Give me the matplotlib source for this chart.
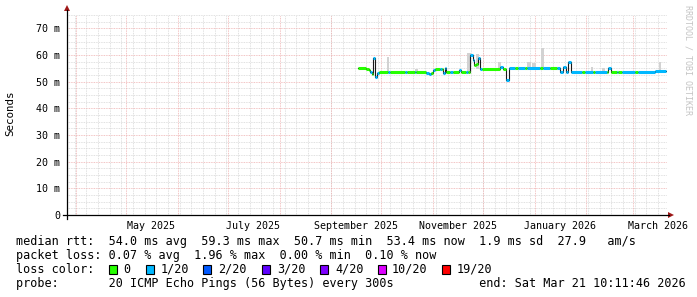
#!/usr/bin/env python3
# smokeping style 360 day rtt graph, rrdtool look

import matplotlib

matplotlib.use("Agg")
import matplotlib.dates as mdates
import matplotlib.pyplot as plt
import pandas as pd
from matplotlib.lines import Line2D
from matplotlib.patches import Polygon, Rectangle

W, H = 697, 297
MONO = "DejaVu Sans Mono"

START = "2025-03-26 10:11:46"
END = "2026-03-21 10:11:46"

# median rtt steps (ms) and loss bucket for each step
step_times = [
    "2025-09-17 00:00", "2025-09-21 19:00", "2025-09-23 14:00", "2025-09-24 12:00",
    "2025-09-25 10:00", "2025-09-26 07:00", "2025-09-27 12:00", "2025-09-28 10:00",
    "2025-09-29 14:00", "2025-10-05 00:00", "2025-10-06 05:00", "2025-10-15 05:00",
    "2025-10-16 10:00", "2025-10-21 05:00", "2025-10-22 02:00", "2025-10-27 19:00",
    "2025-10-29 14:00", "2025-10-30 19:00", "2025-11-01 00:00", "2025-11-02 05:00",
    "2025-11-05 05:00", "2025-11-06 10:00", "2025-11-07 00:00", "2025-11-08 05:00",
    "2025-11-08 19:00", "2025-11-11 05:00", "2025-11-13 00:00", "2025-11-16 14:00",
    "2025-11-17 19:00", "2025-11-20 19:00", "2025-11-22 00:00", "2025-11-23 12:00",
    "2025-11-25 00:00", "2025-11-25 22:00", "2025-11-26 19:00", "2025-11-28 00:00",
    "2025-11-29 12:00", "2025-11-30 10:00", "2025-12-11 05:00", "2025-12-13 07:00",
    "2025-12-15 02:00", "2025-12-16 14:00", "2025-12-20 05:00", "2025-12-22 00:00",
    "2025-12-26 05:00", "2025-12-27 17:00", "2026-01-04 05:00", "2026-01-06 00:00",
    "2026-01-10 05:00", "2026-01-14 10:00", "2026-01-16 05:00", "2026-01-18 07:00",
    "2026-01-19 19:00", "2026-01-21 05:00", "2026-01-22 14:00", "2026-01-29 10:00",
    "2026-01-31 05:00", "2026-02-05 00:00", "2026-02-06 12:00", "2026-02-13 10:00",
    "2026-02-14 07:00", "2026-02-16 02:00", "2026-02-19 10:00", "2026-02-20 07:00",
    "2026-02-22 10:00", "2026-03-02 05:00", "2026-03-04 00:00", "2026-03-14 05:00",
]
data_end = "2026-03-20 20:00"
median_ms = [
    55.0, 54.7, 54.3, 53.5,
    53.0, 58.8, 51.9, 53.2,
    53.5, 53.5, 53.5, 53.5,
    53.5, 53.5, 53.5, 53.3,
    52.8, 53.4, 54.2, 54.8,
    54.8, 54.8, 53.3, 55.0,
    53.5, 53.5, 53.5, 54.4,
    53.5, 53.5, 53.5, 60.0,
    58.2, 56.3, 56.8, 58.7,
    54.8, 54.8, 55.6, 54.6,
    50.6, 55.0, 55.0, 55.0,
    55.0, 55.0, 55.0, 55.0,
    55.0, 55.0, 53.75, 55.6,
    53.75, 57.5, 53.6, 53.6,
    53.6, 53.6, 53.6, 53.6,
    55.0, 53.6, 53.6, 53.6,
    53.6, 53.6, 53.6, 53.9,
]
loss_idx = [
    0, 0, 0, 1,
    0, 1, 1, 1,
    0, 1, 0, 1,
    0, 1, 0, 1,
    1, 0, 1, 0,
    1, 0, 1, 1,
    0, 1, 0, 1,
    0, 1, 0, 1,
    1, 0, 0, 1,
    1, 0, 1, 0,
    1, 1, 0, 1,
    0, 1, 0, 1,
    0, 1, 1, 1,
    1, 1, 1, 0,
    1, 0, 1, 0,
    1, 0, 1, 0,
    1, 0, 1, 1,
]

# spread of the pings (smoke), ms
smoke_from = ["2025-10-04 07:00", "2025-10-21 12:00", "2025-11-21 14:00", "2025-11-27 00:00",
              "2025-12-10 05:00", "2025-12-27 05:00", "2025-12-30 05:00", "2026-01-05 00:00",
              "2026-02-03 19:00", "2026-02-10 10:00", "2026-03-16 19:00"]
smoke_to = ["2025-10-05 22:00", "2025-10-23 07:00", "2025-11-24 00:00", "2025-11-28 19:00",
            "2025-12-12 00:00", "2025-12-29 14:00", "2026-01-01 19:00", "2026-01-06 19:00",
            "2026-02-05 00:00", "2026-02-12 05:00", "2026-03-18 00:00"]
smoke_lo = [53.5, 53.5, 53.5, 54.8, 55.0, 55.0, 55.0, 55.0, 53.6, 53.6, 53.6]
smoke_hi = [59.4, 54.8, 60.6, 60.5, 57.5, 57.3, 56.9, 62.5, 55.6, 55.2, 57.5]

loss_labels = ["0", "1/20", "2/20", "3/20", "4/20", "10/20", "19/20"]
loss_colors = ["#26ff00", "#00b8ff", "#0059ff", "#5e00ff", "#7e00ff", "#dd00ff", "#ff0000"]

y_ticks = [0, 10, 20, 30, 40, 50, 60, 70]
month_labels = ["May 2025", "July 2025", "September 2025", "November 2025",
                "January 2026", "March 2026"]
month_label_days = ["2025-05-16", "2025-07-16", "2025-09-16", "2025-11-16",
                    "2026-01-16", "2026-03-16"]

legend_rows = [
    "median rtt:  54.0 ms avg  59.3 ms max  50.7 ms min  53.4 ms now  1.9 ms sd  27.9   am/s",
    "packet loss: 0.07 % avg  1.96 % max  0.00 % min  0.10 % now",
    "loss color:",
    "probe:       20 ICMP Echo Pings (56 Bytes) every 300s            end: Sat Mar 21 10:11:46 2026",
]


def fx(x):
    return x / W


def fy(y):
    return 1 - y / H


def main() -> None:
    fig = plt.figure(figsize=(W / 100, H / 100), dpi=100)
    fig.patch.set_facecolor("white")
    ax = fig.add_axes([fx(67), fy(215), 600 / W, 200 / H])
    ax.set_facecolor("white")

    t0 = mdates.date2num(pd.Timestamp(START))
    t1 = mdates.date2num(pd.Timestamp(END))
    ax.set_xlim(t0, t1)
    ax.set_ylim(0, 75)

    # grid, drawn by hand like rrdtool (minor grey, major red)
    dot = (0, (1, 1))
    grey, pink = "#d6d6d6", "#eeb0b0"
    for d in pd.date_range("2025-03-31", END, freq="W-MON"):
        ax.axvline(mdates.date2num(d), color=grey, lw=0.6, ls=dot, zorder=0)
    for d in pd.date_range("2025-04-01", END, freq="MS"):
        ax.axvline(mdates.date2num(d), color=pink, lw=0.6, ls=dot, zorder=0.5)
    for v in [i * 2.5 for i in range(1, 31)]:
        if v % 10:
            ax.axhline(v, color=grey, lw=0.6, ls=dot, zorder=0)
    for v in y_ticks[1:]:
        ax.axhline(v, color=pink, lw=0.6, ls=dot, zorder=0.5)

    # smoke
    for a, b, lo, hi in zip(smoke_from, smoke_to, smoke_lo, smoke_hi):
        xa = mdates.date2num(pd.Timestamp(a))
        xb = mdates.date2num(pd.Timestamp(b))
        ax.fill_between([xa, xb], [lo, lo], [hi, hi], color="#d2d2d2", lw=0, zorder=1)

    # median line + loss coloured band
    tt = [mdates.date2num(pd.Timestamp(s)) for s in step_times + [data_end]]
    ax.step(tt, median_ms + [median_ms[-1]], where="post", color="#1a1a1a", lw=0.8, zorder=2)
    ax.hlines(median_ms, tt[:-1], tt[1:], colors=[loss_colors[i] for i in loss_idx],
              lw=2.2, zorder=3)

    for s in ["top", "right", "left", "bottom"]:
        ax.spines[s].set_visible(False)

    ax.set_yticks(y_ticks)
    ax.set_yticklabels(["0" if v == 0 else f"{v} m" for v in y_ticks],
                       family=MONO, fontsize=7.2)
    ax.tick_params(axis="y", length=0, pad=5)

    ax.set_xticks([mdates.date2num(pd.Timestamp(d)) for d in month_label_days])
    ax.set_xticklabels(month_labels, family=MONO, fontsize=7.2)
    ax.tick_params(axis="x", length=0, pad=4.5)

    # axes with arrows
    fig.add_artist(Line2D([fx(63), fx(669)], [fy(215), fy(215)], color="black", lw=0.9))
    fig.add_artist(Line2D([fx(67), fx(67)], [fy(219), fy(10)], color="black", lw=0.9))
    red = "#a01818"
    fig.add_artist(Polygon([(fx(668), fy(212)), (fx(668), fy(218)), (fx(674), fy(215))],
                           closed=True, color=red, lw=0))
    fig.add_artist(Polygon([(fx(64), fy(11)), (fx(70), fy(11)), (fx(67), fy(5))],
                           closed=True, color=red, lw=0))

    fig.text(fx(10), fy(113), "Seconds", rotation=90, ha="center", va="center",
             family=MONO, fontsize=7.8)
    fig.text(fx(688), fy(5), "RRDTOOL / TOBI OETIKER", rotation=270, ha="center", va="top",
             family=MONO, fontsize=6, color="#c4c4c4")

    # legend block
    kw = dict(family=MONO, fontsize=8.5, va="center", ha="left")
    for y, s in zip([241.5, 255.5, 269.5, 283], legend_rows):
        fig.text(fx(16), fy(y), s, **kw)

    box_x = [109, 146, 203, 262, 320, 378, 442]
    text_x = [123, 161, 218, 277, 335, 392, 457]
    for bx, tx, lab, col in zip(box_x, text_x, loss_labels, loss_colors):
        fig.add_artist(Rectangle((fx(bx), fy(274)), 8 / W, 9 / H, facecolor=col,
                                 edgecolor="black", lw=0.8))
        fig.text(fx(tx), fy(269.5), lab, **kw)

    fig.savefig("out.png", dpi=100, facecolor="white")
    plt.close(fig)


if __name__ == "__main__":
    main()
